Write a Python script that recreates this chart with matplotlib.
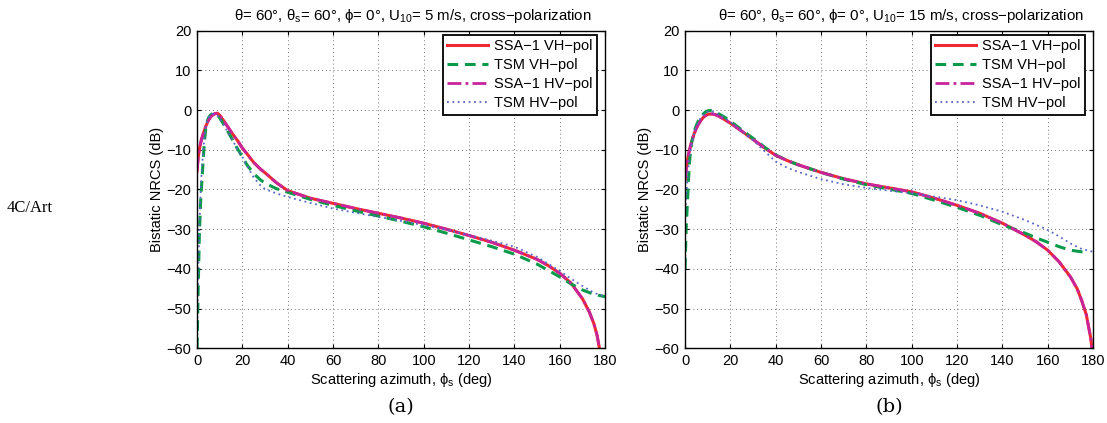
import matplotlib
matplotlib.use("Agg")
import matplotlib.pyplot as plt

plt.rcParams['font.family'] = ['Liberation Sans', 'DejaVu Sans']
plt.rcParams['mathtext.fontset'] = 'custom'
plt.rcParams['mathtext.rm'] = 'Liberation Sans'
plt.rcParams['mathtext.it'] = 'Liberation Sans:italic'
plt.rcParams['mathtext.default'] = 'regular'

# ---------------- data: panel (a), U10 = 5 m/s ----------------
x_ssa_a = [0, 0.5, 1, 1.5, 2, 3, 4, 5, 6, 7, 8, 9, 10, 12, 14, 16, 18, 20, 22, 25,
           28, 30, 35, 40, 50, 60, 70, 80, 90, 100, 110, 120, 130, 140, 150, 155,
           160, 165, 170, 173, 175, 176.5, 177.5]
ssa_vh_a = [-15.3, -12.0, -10.0, -8.5, -7.3, -5.5, -3.9, -2.6, -1.7, -1.2, -0.9, -0.8,
            -1.3, -2.9, -4.6, -6.3, -7.8, -9.6, -11.0, -13.2, -14.9, -15.8, -18.3,
            -20.3, -22.2, -23.5, -24.8, -26.0, -27.2, -28.5, -30.0, -31.6, -33.3,
            -35.3, -37.6, -39.2, -41.1, -43.6, -47.5, -50.8, -53.7, -56.8, -60.0]
ssa_hv_a = list(ssa_vh_a)

x_tsm_a = [0, 0.5, 1, 1.5, 2, 2.5, 3, 3.5, 4, 5, 6, 7, 8, 9, 10, 12, 14, 16, 18, 20,
           22, 25, 28, 30, 35, 40, 50, 60, 70, 80, 90, 100, 110, 120, 130, 140, 150,
           160, 165, 170, 175, 180]
tsm_vh_a = [-60.0, -45.0, -32.0, -24.0, -19.0, -14.5, -10.0, -6.5, -3.8, -2.0, -1.2,
            -0.9, -0.9, -1.2, -2.0, -3.8, -5.8, -7.9, -9.9, -11.8, -13.8, -16.0,
            -17.6, -18.4, -19.8, -20.7, -22.5, -24.0, -25.4, -26.7, -28.0, -29.4,
            -31.0, -32.7, -34.4, -36.3, -38.8, -42.0, -43.8, -45.3, -46.4, -47.0]
tsm_hv_a = [-55.0, -42.0, -30.0, -22.0, -16.0, -12.0, -8.5, -5.8, -3.8, -2.0, -1.2,
            -0.9, -1.0, -1.4, -2.2, -4.0, -6.0, -8.0, -10.0, -11.8, -14.0, -17.0,
            -19.0, -19.9, -21.0, -21.9, -23.4, -24.8, -25.9, -26.9, -27.9, -29.0,
            -30.2, -31.5, -32.9, -34.4, -37.0, -40.5, -42.5, -44.3, -46.0, -47.0]

# ---------------- data: panel (b), U10 = 15 m/s ----------------
x_ssa_b = [0, 0.5, 1, 1.5, 2, 3, 4, 5, 6, 7, 8, 9, 10, 11, 12, 13, 14, 16, 18, 20,
           25, 30, 35, 40, 45, 50, 60, 70, 80, 90, 100, 110, 120, 130, 140, 150,
           155, 160, 165, 170, 173, 175, 177, 178, 179, 179.5]
ssa_vh_b = [-17.8, -15.0, -13.0, -11.3, -10.0, -7.8, -6.0, -4.6, -3.5, -2.6, -1.9,
            -1.4, -1.1, -1.0, -1.0, -1.1, -1.3, -1.9, -2.6, -3.3, -5.3, -7.4, -9.5,
            -11.4, -12.7, -13.8, -15.7, -17.3, -18.6, -19.6, -20.6, -22.2, -24.0,
            -26.0, -28.5, -31.5, -33.2, -35.3, -38.2, -42.0, -45.0, -48.0, -51.5,
            -54.5, -57.5, -60.0]
ssa_hv_b = list(ssa_vh_b)

x_tsm_b = [0, 0.5, 1, 1.5, 2, 2.5, 3, 4, 5, 6, 7, 8, 9, 10, 11, 12, 14, 16, 18, 20,
           25, 30, 35, 40, 45, 50, 60, 70, 80, 90, 100, 110, 120, 130, 140, 150,
           155, 160, 165, 170, 175, 178]
tsm_vh_b = [-40.0, -30.0, -24.0, -18.0, -13.0, -10.0, -8.0, -5.5, -3.8, -2.6, -1.7,
            -1.0, -0.5, -0.2, -0.1, -0.2, -0.7, -1.3, -2.0, -2.8, -5.0, -7.1, -9.3,
            -11.3, -12.7, -13.8, -15.7, -17.4, -18.8, -19.9, -21.0, -22.7, -24.5,
            -26.5, -28.9, -31.0, -32.2, -33.3, -34.4, -35.3, -35.7, -35.8]

x_tsm_hv_b = [0, 0.5, 1, 1.5, 2, 3, 4, 5, 6, 7, 8, 9, 10, 11, 12, 14, 16, 18, 20, 25,
              30, 35, 40, 45, 50, 60, 70, 80, 90, 100, 110, 120, 130, 140, 150, 160,
              165, 170, 175, 180]
tsm_hv_b = [-28.0, -22.0, -18.0, -14.5, -12.0, -8.5, -6.0, -4.2, -2.9, -1.9, -1.2,
            -0.7, -0.4, -0.3, -0.4, -0.9, -1.5, -2.2, -3.0, -5.2, -7.6, -10.3, -13.0,
            -14.5, -15.6, -17.4, -18.7, -19.6, -20.3, -21.0, -21.8, -22.7, -24.0,
            -25.6, -27.7, -30.2, -31.8, -33.6, -35.0, -35.7]

x_ticks = [0, 20, 40, 60, 80, 100, 120, 140, 160, 180]
y_ticks = [-60, -50, -40, -30, -20, -10, 0, 10, 20]
labels = ['SSA\u22121 VH\u2212pol', 'TSM VH\u2212pol', 'SSA\u22121 HV\u2212pol', 'TSM HV\u2212pol']
titles = ['\u03b8= 60\u00b0, \u03b8$_s$= 60\u00b0, \u03d5= 0\u00b0, U$_{10}$= 5 m/s, cross\u2212polarization',
          '\u03b8= 60\u00b0, \u03b8$_s$= 60\u00b0, \u03d5= 0\u00b0, U$_{10}$= 15 m/s, cross\u2212polarization']
captions = ['(a)', '(b)']

C_RED = '#ec2a30'
C_GREEN = '#0a9a4a'
C_MAG = '#c8249c'
C_BLUE = '#5a66c8'

fig = plt.figure(figsize=(11.07, 4.23), dpi=100)
ax_a = fig.add_axes([0.178, 0.1766, 0.3686, 0.751])
ax_b = fig.add_axes([0.6188, 0.1766, 0.3686, 0.751])

panels = [
    (ax_a, x_ssa_a, ssa_vh_a, x_tsm_a, tsm_vh_a, x_ssa_a, ssa_hv_a, x_tsm_a, tsm_hv_a),
    (ax_b, x_ssa_b, ssa_vh_b, x_tsm_b, tsm_vh_b, x_ssa_b, ssa_hv_b, x_tsm_hv_b, tsm_hv_b),
]

for i, (ax, xs1, y1, xs2, y2, xs3, y3, xs4, y4) in enumerate(panels):
    ax.plot(xs1, y1, color=C_RED, lw=2.2, ls='-', label=labels[0])
    ax.plot(xs2, y2, color=C_GREEN, lw=2.2, ls=(0, (3.5, 2.2)), label=labels[1])
    ax.plot(xs3, y3, color=C_MAG, lw=2.0, ls=(0, (5, 1.5, 1, 1.5)), label=labels[2])
    ax.plot(xs4, y4, color=C_BLUE, lw=1.3, ls=(0, (1, 2)), label=labels[3])
    ax.set_xlim(0, 180)
    ax.set_ylim(-60, 20)
    ax.set_xticks(x_ticks)
    ax.set_yticks(y_ticks)
    ax.tick_params(direction='in', length=3, width=0.8, labelsize=10.5,
                   top=True, right=True, pad=4)
    ax.grid(True, ls=(0, (1, 3)), color='#777777', lw=0.7)
    for sp in ax.spines.values():
        sp.set_linewidth(1.0)
    ax.set_xlabel('Scattering azimuth, \u03d5$_s$ (deg)', fontsize=10.5, labelpad=2)
    ax.set_ylabel('Bistatic NRCS (dB)', fontsize=10.5, labelpad=2)
    ax.set_title(titles[i], fontsize=10.8, pad=8, x=0.53)
    leg = ax.legend(loc='upper right', bbox_to_anchor=(0.98, 0.987), borderaxespad=0,
                    fontsize=10.5, handlelength=2.8, handletextpad=0.4,
                    labelspacing=0.35, borderpad=0.3, fancybox=False, framealpha=1)
    leg.get_frame().set_edgecolor('black')
    leg.get_frame().set_linewidth(1.3)
    ax.text(0.5, -0.185, captions[i], transform=ax.transAxes, ha='center', va='center',
            fontsize=14, family='DejaVu Serif')

fig.text(7 / 1107, 1 - 208 / 423, '4C/Art', fontsize=12, family='Liberation Serif',
         ha='left', va='center')

fig.savefig('out.png', dpi=100)
